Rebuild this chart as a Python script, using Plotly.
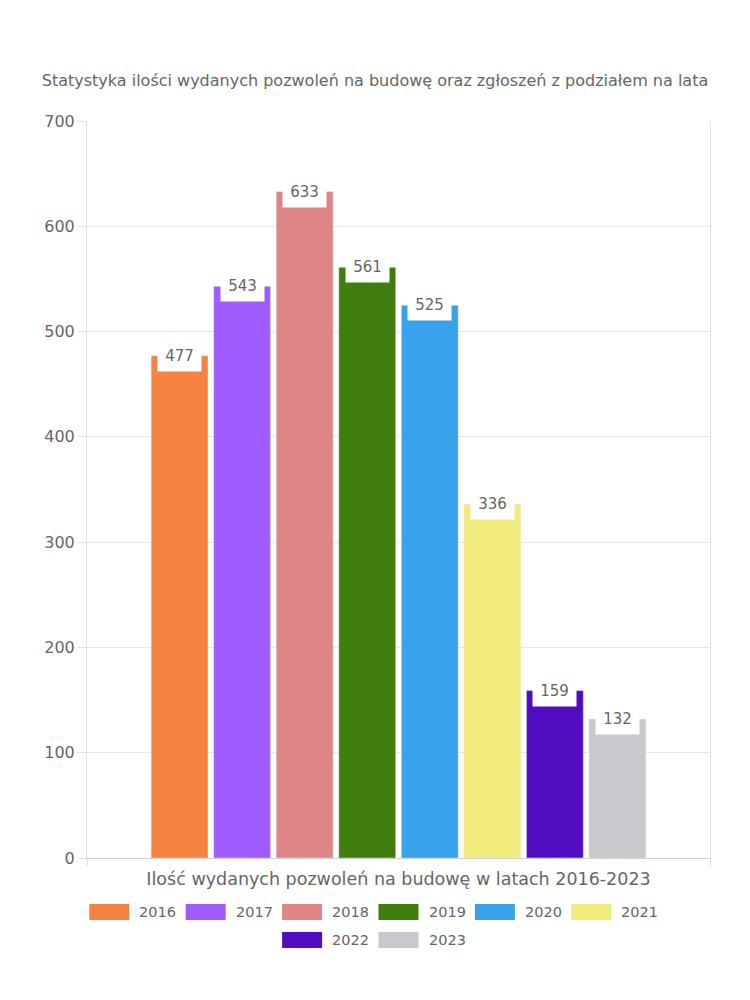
import plotly.graph_objects as go

years = ["2016", "2017", "2018", "2019", "2020", "2021", "2022", "2023"]
values = [477, 543, 633, 561, 525, 336, 159, 132]
colors = ["#F58442", "#A15CFF", "#E08585", "#3F7D0E", "#38A3EA", "#F0EB7D", "#510CC2", "#C9C9CD"]
title_text = "Statystyka ilości wydanych pozwoleń na budowę oraz zgłoszeń z podziałem na lata"
x_title = "Ilość wydanych pozwoleń na budowę w latach 2016-2023"
y_ticks = [0, 100, 200, 300, 400, 500, 600, 700]

FONT = "DejaVu Sans"
TXT = "#666666"
OFF = 8  # page body margin
W, H = 750 - OFF, 1000 - OFF
# plot area in page pixels: x 87..710, y 121..858
PL, PR, PT, PB = 87, 710, 121, 858
ML, MR, MT, MB = PL - OFF, W - (PR - OFF), PT - OFF, H - (PB - OFF)
PW, PH = PR - PL, PB - PT

def px_x(px):  # page px -> paper
    return (px - PL) / PW

def px_y(py):
    return (PB - py) / PH

fig = go.Figure()
for i, (yr, v, c) in enumerate(zip(years, values, colors)):
    fig.add_trace(go.Bar(x=[i], y=[v], name=yr, marker_color=c, width=0.91,
                         showlegend=False, hoverinfo="y+name"))
    fig.add_annotation(x=i, y=v, xref="x", yref="y", text=str(v), showarrow=False,
                       yanchor="middle", xanchor="center", bgcolor="white",
                       borderpad=6, width=31,
                       font=dict(family=FONT, size=15, color=TXT))

# custom legend (wide swatches)
step = 96.4
rows = [(years[:6], 912, 0), (years[6:], 940, 6)]
for row, cy, base in rows:
    total = len(row) * step - 7
    start = 375 - total / 2
    for j, yr in enumerate(row):
        x0 = start + j * step
        fig.add_shape(type="rect", xref="paper", yref="paper",
                      x0=px_x(x0), x1=px_x(x0 + 40), y0=px_y(cy + 8), y1=px_y(cy - 8),
                      fillcolor=colors[base + j], line=dict(width=0))
        fig.add_annotation(xref="paper", yref="paper", x=px_x(x0 + 48), y=px_y(cy),
                           text=yr, showarrow=False, xanchor="left", yanchor="middle",
                           font=dict(family=FONT, size=14.5, color=TXT))

fig.update_layout(
    width=W, height=H,
    margin=dict(l=ML, r=MR, t=MT, b=MB),
    paper_bgcolor="white", plot_bgcolor="white",
    barmode="overlay",
    title=dict(text=title_text, x=(375 - OFF) / W, xanchor="center", y=1 - (80 - OFF) / H, yanchor="middle",
               font=dict(family=FONT, size=16, color=TXT)),
    xaxis=dict(range=[-1.48, 8.48], showticklabels=False, showgrid=False,
               zeroline=False, showline=True, linecolor="#d0d0d0", linewidth=1,
               tickvals=[-1.48, 8.48], ticks="outside", ticklen=7, tickcolor="#e0e0e0",
               title=dict(text=x_title, font=dict(family=FONT, size=17.5, color=TXT), standoff=7)),
    yaxis=dict(range=[0, 700], tickvals=y_ticks, ticks="outside", ticklen=8,
               tickcolor="#e0e0e0", showgrid=True, gridcolor="#e6e6e6",
               zeroline=False, showline=True, linecolor="#e0e0e0", mirror=True,
               tickfont=dict(family=FONT, size=16, color=TXT)),
    showlegend=False,
)

fig.write_html("out.html")
